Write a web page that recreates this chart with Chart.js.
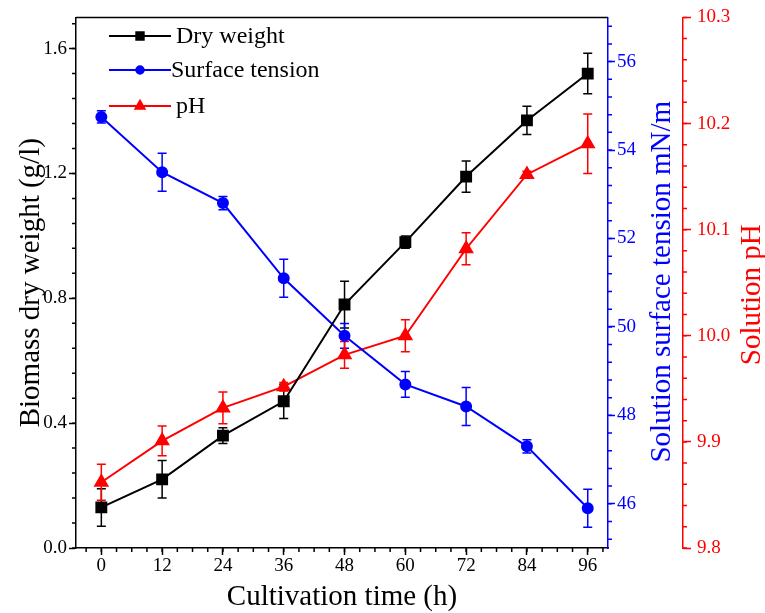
<!DOCTYPE html>
<html>
<head>
<meta charset="utf-8">
<script src="https://cdn.jsdelivr.net/npm/chart.js@4/dist/chart.umd.min.js"></script>
<style>
  html, body { margin: 0; padding: 0; background: #fff; }
  #wrap { width: 765px; height: 613px; }
</style>
</head>
<body>
<div id="wrap"><canvas id="cultureChart" width="765" height="613"></canvas></div>
<script>
// Cultivation time (h)
const hours = [0, 12, 24, 36, 48, 60, 72, 84, 96];

// Series
const dryWeight = [0.13, 0.22, 0.36, 0.47, 0.78, 0.98, 1.19, 1.37, 1.52];
const dryWeightErr = [0.06, 0.06, 0.025, 0.055, 0.075, 0.02, 0.05, 0.045, 0.065];
const surfaceTension = [54.75, 53.5, 52.8, 51.1, 49.8, 48.7, 48.2, 47.3, 45.9];
const surfaceTensionErr = [0.14, 0.43, 0.15, 0.43, 0.28, 0.29, 0.43, 0.15, 0.43];
const pH = [9.862, 9.901, 9.932, 9.952, 9.982, 10.0, 10.082, 10.152, 10.181];
const pHErr = [0.017, 0.014, 0.015, 0.004, 0.0125, 0.015, 0.015, 0.003, 0.028];

// Tick values and labels
const xTicks = [0, 12, 24, 36, 48, 60, 72, 84, 96];
const xTickLabels = ['0', '12', '24', '36', '48', '60', '72', '84', '96'];
const weightTicks = [0, 0.4, 0.8, 1.2, 1.6];
const weightTickLabels = ['0.0', '0.4', '0.8', '1.2', '1.6'];
const tensionTicks = [46, 48, 50, 52, 54, 56];
const tensionTickLabels = ['46', '48', '50', '52', '54', '56'];
const pHTicks = [9.8, 9.9, 10.0, 10.1, 10.2, 10.3];
const pHTickLabels = ['9.8', '9.9', '10.0', '10.1', '10.2', '10.3'];

const BLUE = '#0000ff';
const RED = '#ff0000';
const FONT = "'Liberation Serif', 'Times New Roman', serif";

Chart.defaults.font.family = FONT;

function toPoints(values) {
  return hours.map((h, i) => ({ x: h, y: values[i] }));
}

// minor ticks: Chart.js has no minor ticks, draw them from the scales
const minorTicks = {
  x: { from: -3, to: 99, step: 3, color: '#000' },
  y: { from: 0, to: 1.68, step: 0.08, color: '#000' },
  y1: { from: 45.2, to: 56.8, step: 0.4, color: BLUE },
  y2: { from: 9.8, to: 10.3, step: 0.02, color: RED }
};

const minorTickPlugin = {
  id: 'minorTicks',
  afterDraw(chart) {
    const ctx = chart.ctx;
    const area = chart.chartArea;
    ctx.save();
    ctx.lineWidth = 1.5;
    Object.keys(minorTicks).forEach(id => {
      const m = minorTicks[id];
      const scale = chart.scales[id];
      ctx.strokeStyle = m.color;
      ctx.beginPath();
      for (let k = 0; ; k++) {
        const v = m.from + k * m.step;
        if (v > m.to + 1e-9) break;
        const p = scale.getPixelForValue(v);
        if (id === 'x') {
          ctx.moveTo(p, area.bottom);
          ctx.lineTo(p, area.bottom + 4);
        } else if (id === 'y') {
          ctx.moveTo(area.left, p);
          ctx.lineTo(area.left - 4, p);
        } else {
          ctx.moveTo(scale.left, p);
          ctx.lineTo(scale.left + 4, p);
        }
      }
      ctx.stroke();
    });
    // top frame line
    ctx.strokeStyle = '#000';
    ctx.beginPath();
    ctx.moveTo(area.left, area.top);
    ctx.lineTo(area.right, area.top);
    ctx.stroke();
    ctx.restore();
  }
};

// right-hand axis titles read bottom to top, like the left one
const rightTitles = [
  { id: 'y1', text: 'Solution surface tension mN/m', color: BLUE, inset: 21, shift: -1 },
  { id: 'y2', text: 'Solution pH', color: RED, inset: 13, shift: 12 }
];

const rightTitlePlugin = {
  id: 'rightTitles',
  afterDraw(chart) {
    const ctx = chart.ctx;
    ctx.save();
    ctx.font = '29px ' + FONT;
    ctx.textAlign = 'center';
    ctx.textBaseline = 'middle';
    rightTitles.forEach(t => {
      const s = chart.scales[t.id];
      ctx.save();
      ctx.translate(s.right - t.inset, (s.top + s.bottom) / 2 + t.shift);
      ctx.rotate(-Math.PI / 2);
      ctx.fillStyle = t.color;
      ctx.fillText(t.text, 0, 0);
      ctx.restore();
    });
    ctx.restore();
  }
};

// error bars drawn under the markers
const errorBarPlugin = {
  id: 'errorBars',
  beforeDatasetsDraw(chart) {
    const ctx = chart.ctx;
    ctx.save();
    ctx.lineWidth = 1.5;
    chart.data.datasets.forEach(ds => {
      const xs = chart.scales.x;
      const ys = chart.scales[ds.yAxisID];
      ctx.strokeStyle = ds.borderColor;
      ds.data.forEach((pt, i) => {
        const e = ds.errors[i];
        const px = xs.getPixelForValue(pt.x);
        const top = ys.getPixelForValue(pt.y + e);
        const bot = ys.getPixelForValue(pt.y - e);
        ctx.beginPath();
        ctx.moveTo(px, top); ctx.lineTo(px, bot);
        ctx.moveTo(px - 4.5, top); ctx.lineTo(px + 4.5, top);
        ctx.moveTo(px - 4.5, bot); ctx.lineTo(px + 4.5, bot);
        ctx.stroke();
      });
    });
    ctx.restore();
  }
};

// legend inside the plot, top left
const legendPlugin = {
  id: 'insideLegend',
  afterDraw(chart) {
    const ctx = chart.ctx;
    const rows = [36, 70, 106];
    ctx.save();
    chart.data.datasets.forEach((ds, i) => {
      const y = rows[i];
      ctx.strokeStyle = ds.borderColor;
      ctx.fillStyle = ds.borderColor;
      ctx.lineWidth = 2;
      ctx.beginPath();
      ctx.moveTo(109, y);
      ctx.lineTo(171, y);
      ctx.stroke();
      Chart.helpers.drawPoint(ctx, {
        pointStyle: ds.pointStyle,
        radius: ds.pointRadius * 0.75,
        borderWidth: 1,
        rotation: 0
      }, 140, y);
      ctx.fillStyle = '#000';
      ctx.font = '24px ' + FONT;
      ctx.textBaseline = 'middle';
      ctx.textAlign = 'left';
      ctx.fillText(ds.label, i === 1 ? 171 : 176, y + 1);
    });
    ctx.restore();
  }
};

function axisTicks(values, labels, color, padding) {
  return {
    afterBuildTicks: scale => { scale.ticks = values.map(v => ({ value: v })); },
    ticks: {
      autoSkip: false,
      color: color,
      padding: padding,
      font: { size: 19, family: FONT },
      callback: (v, i) => labels[i]
    }
  };
}

const ctx = document.getElementById('cultureChart').getContext('2d');

const cultureChart = new Chart(ctx, {
  type: 'line',
  data: {
    datasets: [
      {
        label: 'Dry weight',
        data: toPoints(dryWeight),
        errors: dryWeightErr,
        yAxisID: 'y',
        borderColor: '#000',
        backgroundColor: '#000',
        pointBackgroundColor: '#000',
        pointStyle: 'rect',
        pointRadius: 7,
        borderWidth: 2
      },
      {
        label: 'Surface tension',
        data: toPoints(surfaceTension),
        errors: surfaceTensionErr,
        yAxisID: 'y1',
        borderColor: BLUE,
        backgroundColor: BLUE,
        pointBackgroundColor: BLUE,
        pointStyle: 'circle',
        pointRadius: 5,
        borderWidth: 2
      },
      {
        label: 'pH',
        data: toPoints(pH),
        errors: pHErr,
        yAxisID: 'y2',
        borderColor: RED,
        backgroundColor: RED,
        pointBackgroundColor: RED,
        pointStyle: 'triangle',
        pointRadius: 7,
        borderWidth: 2
      }
    ]
  },
  options: {
    responsive: false,
    animation: false,
    devicePixelRatio: 1,
    layout: { padding: { top: 17, left: 0, right: 0, bottom: 0 } },
    plugins: {
      legend: { display: false },
      tooltip: { enabled: false }
    },
    elements: { line: { tension: 0 }, point: { borderWidth: 1 } },
    scales: {
      x: {
        type: 'linear',
        position: 'bottom',
        min: -5,
        max: 100,
        ...axisTicks(xTicks, xTickLabels, '#000', 0),
        afterFit: s => { s.height = 65; },
        grid: { drawOnChartArea: false, tickLength: 7, tickWidth: 1.5, tickColor: '#000' },
        border: { color: '#000', width: 1.5 },
        title: {
          display: true,
          text: 'Cultivation time (h)',
          color: '#000',
          font: { size: 29, family: FONT, lineHeight: 1.1 },
          padding: { top: 0, bottom: 0 }
        }
      },
      y: {
        type: 'linear',
        position: 'left',
        min: 0,
        max: 1.7,
        ...axisTicks(weightTicks, weightTickLabels, '#000', 2),
        afterFit: s => { s.width = 76; },
        grid: { drawOnChartArea: false, tickLength: 7, tickWidth: 1.5, tickColor: '#000' },
        border: { color: '#000', width: 1.5 },
        title: {
          display: true,
          text: 'Biomass dry weight (g/l)',
          color: '#000',
          font: { size: 29, family: FONT, lineHeight: 1.1 },
          padding: { top: 15, bottom: 0 }
        }
      },
      y1: {
        type: 'linear',
        position: 'right',
        weight: 1,
        min: 45,
        max: 57,
        ...axisTicks(tensionTicks, tensionTickLabels, BLUE, 2),
        afterFit: s => { s.width = 75; },
        grid: { drawOnChartArea: false, tickLength: 7, tickWidth: 1.5, tickColor: BLUE },
        border: { color: BLUE, width: 1.5 }
      },
      y2: {
        type: 'linear',
        position: 'right',
        weight: 2,
        min: 9.8,
        max: 10.3,
        ...axisTicks(pHTicks, pHTickLabels, RED, 6),
        afterFit: s => { s.width = 82; },
        grid: { drawOnChartArea: false, tickLength: 8, tickWidth: 1.5, tickColor: RED },
        border: { color: RED, width: 1.5 }
      }
    }
  },
  plugins: [errorBarPlugin, minorTickPlugin, rightTitlePlugin, legendPlugin]
});
</script>
</body>
</html>
